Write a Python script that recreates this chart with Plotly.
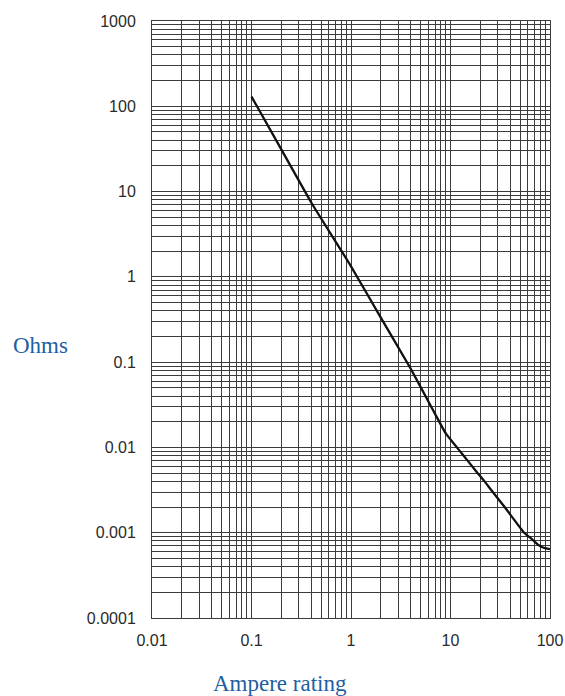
import plotly.graph_objects as go

# Resistance vs. ampere rating (log-log)
ampere = [0.1, 0.2, 0.4, 1, 2, 4, 6.5, 9, 13, 18, 22, 26, 35, 55, 65, 75, 85, 100]
ohms = [130, 31, 7.4, 1.33, 0.33, 0.083, 0.029, 0.0145, 0.0085, 0.0053,
        0.0040, 0.0031, 0.0020, 0.0010, 0.00085, 0.00073, 0.00067, 0.00064]

x_major = [0.01, 0.1, 1, 10, 100]
x_labels = ["0.01", "0.1", "1", "10", "100"]
y_major = [0.0001, 0.001, 0.01, 0.1, 1, 10, 100, 1000]
y_labels = ["0.0001", "0.001", "0.01", "0.1", "1", "10", "100", "1000"]

x_minor = [d * k for d in x_major[:-1] for k in range(2, 10)]
y_minor = [d * k for d in y_major[:-1] for k in range(2, 10)]

GRID = "#3c3c3c"
TITLE_BLUE = "#1f5f9f"
TICK_FONT = dict(family="Liberation Sans, Arial, sans-serif", size=16, color="#2a2a2a")
TITLE_FONT = dict(family="Liberation Serif, Times New Roman, serif", size=23, color=TITLE_BLUE)

fig = go.Figure()
fig.add_trace(go.Scatter(
    x=ampere, y=ohms, mode="lines",
    line=dict(color="#111111", width=2.3, shape="spline", smoothing=0.4),
    showlegend=False, hoverinfo="skip",
))

fig.update_xaxes(
    type="log", range=[-2, 2], automargin=False,
    tickvals=x_major, ticktext=x_labels, tickfont=TICK_FONT,
    showgrid=True, gridcolor=GRID, gridwidth=1,
    minor=dict(tickvals=x_minor, showgrid=True, gridcolor=GRID, gridwidth=1),
    showline=True, linecolor=GRID, linewidth=1, mirror=True,
    ticks="", ticklabelstandoff=8, zeroline=False,
)
fig.update_yaxes(
    type="log", range=[-4, 3], automargin=False,
    tickvals=y_major, ticktext=y_labels, tickfont=TICK_FONT,
    showgrid=True, gridcolor=GRID, gridwidth=1,
    minor=dict(tickvals=y_minor, showgrid=True, gridcolor=GRID, gridwidth=1),
    showline=True, linecolor=GRID, linewidth=1, mirror=True,
    ticks="", ticklabelstandoff=12, zeroline=False,
)

fig.add_annotation(text="Ohms", xref="paper", yref="paper",
                   x=-0.281, y=0.456, xanchor="center", yanchor="middle",
                   showarrow=False, font=TITLE_FONT)
fig.add_annotation(text="Ampere rating", xref="paper", yref="paper",
                   x=0.149, y=-0.109, xanchor="left", yanchor="middle",
                   showarrow=False, font=TITLE_FONT)

fig.update_layout(
    width=565, height=696,
    margin=dict(l=152, r=15, t=21, b=78),
    plot_bgcolor="white", paper_bgcolor="white",
)

fig.write_html("out.html")
